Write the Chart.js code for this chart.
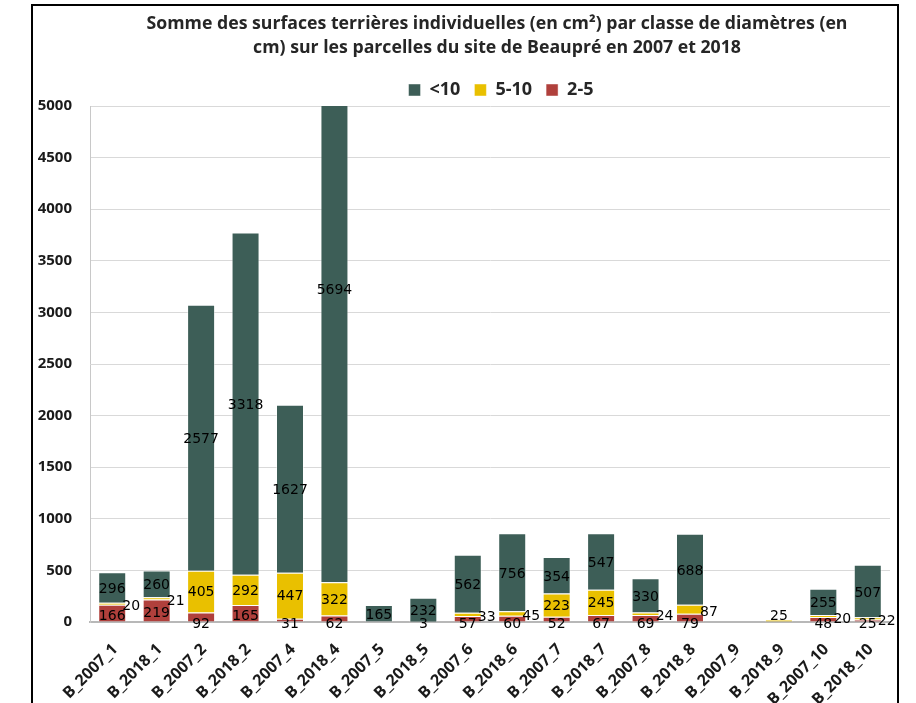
<!DOCTYPE html>
<html><head><meta charset="utf-8">
<script src="https://cdn.jsdelivr.net/npm/chart.js@4"></script>
<style>
html,body{margin:0;padding:0;background:#fff;overflow:hidden;width:916px;height:703px}
#frame{position:absolute;left:31px;top:4px;width:864px;height:760px;border:2px solid #000}
#wrap{position:absolute;left:0;top:0;width:916px;height:720px}
</style></head><body>
<div id="frame"></div>
<div id="wrap"><canvas id="c" width="916" height="720"></canvas></div>
<script>
const categories = ['B_2007_1','B_2018_1','B_2007_2','B_2018_2','B_2007_4','B_2018_4','B_2007_5','B_2018_5','B_2007_6','B_2018_6','B_2007_7','B_2018_7','B_2007_8','B_2018_8','B_2007_9','B_2018_9','B_2007_10','B_2018_10'];
const seriesNames = ['<10', '5-10', '2-5'];
const valuesUnder10 = [296, 260, 2577, 3318, 1627, 5694, 165, 232, 562, 756, 354, 547, 330, 688, null, null, 255, 507];
const values5to10 = [20, 21, 405, 292, 447, 322, null, null, 33, 45, 223, 245, 24, 87, null, 25, 20, 22];
const values2to5 = [166, 219, 92, 165, 31, 62, null, 3, 57, 60, 52, 67, 69, 79, null, null, 48, 25];
const yTickValues = [0, 500, 1000, 1500, 2000, 2500, 3000, 3500, 4000, 4500, 5000];
const titleLines = ['Somme des surfaces terrières individuelles (en cm²) par classe de diamètres (en', 'cm) sur les parcelles du site de Beaupré en 2007 et 2018'];

const COLORS = { green: '#3d5e57', yellow: '#e9c000', red: '#b0403c' };

const segLabels = {
  id: 'segLabels',
  afterLayout(chart) {
    if (chart.titleBlock) { chart.titleBlock.left += 7; chart.titleBlock.right += 7; }
    if (chart.legend) { chart.legend.left += 11; chart.legend.right += 11; chart.legend.top += 3; chart.legend.bottom += 3; }
  },
  afterDatasetsDraw(chart) {
    const ctx = chart.ctx;
    const y0 = chart.scales.y.getPixelForValue(0);
    ctx.save();
    ctx.font = '14px "DejaVu Sans"';
    ctx.fillStyle = '#000';
    ctx.textBaseline = 'middle';
    chart.data.datasets.forEach((ds, di) => {
      const meta = chart.getDatasetMeta(di);
      meta.data.forEach((el, i) => {
        const v = ds.data[i];
        if (v == null || v === 0) return;
        const p = el.getProps(['x', 'y', 'base', 'width'], true);
        const h = p.base - p.y;
        let tx = p.x, ty = (p.y + p.base) / 2;
        if (ds.kind === 'red') {
          ty = h > 15 ? ty + 3 : y0 + 2;
        } else if (ds.kind === 'yellow') {
          const others = (values2to5[i] || 0) + (valuesUnder10[i] || 0);
          if (v < 100 && others > 0) { tx = p.x + p.width / 2 + 5; ty += 3; }
          else if (v < 100) ty -= 4;
          else ty += 1;
        } else {
          ty += 2;
        }
        ctx.textAlign = 'center';
        ctx.fillText(String(v), tx, ty);
      });
    });
    ctx.restore();
  }
};

new Chart(document.getElementById('c'), {
  type: 'bar',
  data: {
    labels: categories,
    datasets: [
      { label: seriesNames[2], kind: 'red', data: values2to5, backgroundColor: COLORS.red, borderColor: 'rgba(255,255,255,0.45)', borderWidth: 1 },
      { label: seriesNames[1], kind: 'yellow', data: values5to10, backgroundColor: COLORS.yellow, borderColor: 'rgba(255,255,255,0.45)', borderWidth: 1 },
      { label: seriesNames[0], kind: 'green', data: valuesUnder10, backgroundColor: COLORS.green, borderColor: 'rgba(255,255,255,0.45)', borderWidth: 1 }
    ]
  },
  options: {
    responsive: false,
    animation: false,
    layout: { padding: { left: 36, right: 26, top: 0, bottom: 0 } },
    datasets: { bar: { barPercentage: 0.63, categoryPercentage: 1 } },
    plugins: {
      title: {
        display: true, fullSize: false, text: titleLines, color: '#262626',
        font: { family: '"Open Sans", sans-serif', size: 17.7, weight: 'bold', lineHeight: 1.41 },
        padding: { top: 11, bottom: 3.1 }
      },
      legend: {
        display: true, fullSize: false, reverse: true,
        labels: {
          color: '#262626', boxWidth: 12, boxHeight: 12, padding: 14,
          font: { family: '"Open Sans", sans-serif', size: 18, weight: 'bold' }
        }
      },
      tooltip: { enabled: false }
    },
    scales: {
      x: {
        stacked: true,
        grid: { display: false },
        border: { display: true, color: '#b8b8b8', width: 2 },
        ticks: { color: '#1a1a1a', font: { family: '"Open Sans", sans-serif', size: 16, weight: 'bold' }, minRotation: 45, maxRotation: 45, autoSkip: false, padding: 10, labelOffset: 3 },
        afterFit(s) { s.height = 98; }
      },
      y: {
        stacked: true, min: 0, max: 5000,
        afterBuildTicks(s) { s.ticks = yTickValues.map(v => ({ value: v })); },
        grid: { color: '#d9d9d9', drawTicks: false },
        border: { display: true, color: '#c8c8c8', width: 1 },
        ticks: { color: '#1a1a1a', font: { family: '"Open Sans", sans-serif', size: 15, weight: 'bold' }, padding: 18, callback: v => String(v) },
        afterFit(s) { s.width = 54; }
      }
    }
  },
  plugins: [segLabels]
});
</script>
</body></html>
